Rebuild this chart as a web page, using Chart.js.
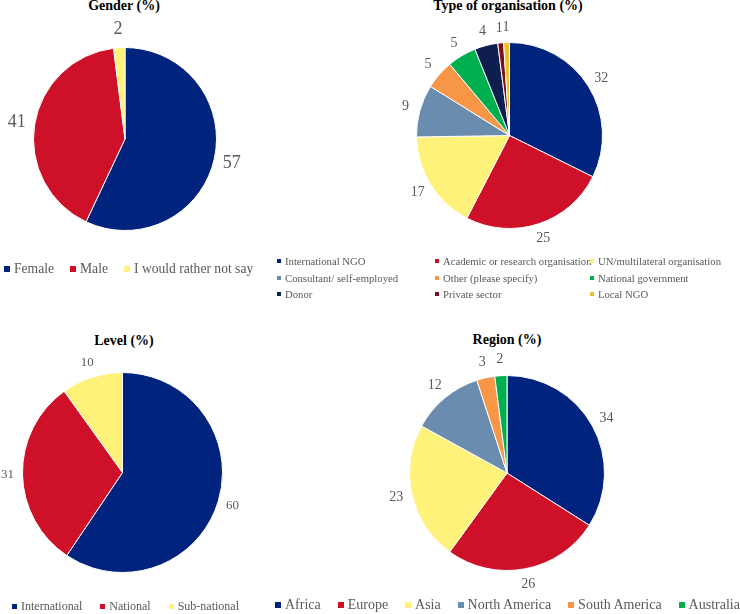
<!DOCTYPE html>
<html>
<head>
<meta charset="utf-8">
<script src="https://cdn.jsdelivr.net/npm/chart.js@4.4.0/dist/chart.umd.min.js"></script>
<style>
  body { margin: 0; width: 740px; height: 614px; background: #fff; position: relative; overflow: hidden; font-family: "Liberation Serif", "Times New Roman", serif; }
  canvas { position: absolute; }
  .title { position: absolute; font-weight: bold; font-size: 14px; line-height: 16px; color: #000; transform: translateX(-50%); white-space: nowrap; }
  .legend { position: absolute; display: flex; align-items: center; color: #595959; white-space: nowrap; }
  .legend .item { display: flex; align-items: center; }
  .legend .box { display: inline-block; margin-right: 4px; flex-shrink: 0; }
  #org-legend { display: grid; grid-template-columns: 158px 155px auto; row-gap: 0; font-size: 10.7px; line-height: 16.5px; }
</style>
</head>
<body>
<div class="title" style="left:124px; top:-2px;">Gender (%)</div>
<div class="title" style="left:508px; top:-2px;">Type of organisation (%)</div>
<div class="title" style="left:124px; top:333px;">Level (%)</div>
<div class="title" style="left:507px; top:332px;">Region (%)</div>

<canvas id="gender-chart"></canvas>
<canvas id="org-chart"></canvas>
<canvas id="level-chart"></canvas>
<canvas id="region-chart"></canvas>

<div class="legend" id="gender-legend" style="left:4px; top:261px; font-size:13.6px; line-height:16px; gap:16px;"></div>
<div class="legend" id="org-legend" style="left:277px; top:253px;"></div>
<div class="legend" id="level-legend" style="left:12px; top:598px; font-size:12px; line-height:16px; gap:18px;"></div>
<div class="legend" id="region-legend" style="left:275px; top:597px; width:465px; justify-content:space-between; font-size:14px; line-height:16px;"></div>

<script>
const genderLabels = ['Female', 'Male', 'I would rather not say'];
const genderValues = [57, 41, 2];
const genderColors = ['#00237D', '#CE1129', '#FFF27A'];

const orgLabels = ['International NGO', 'Academic or research organisation', 'UN/multilateral organisation',
    'Consultant/ self-employed', 'Other (please specify)', 'National government',
    'Donor', 'Private sector', 'Local NGO'];
const orgValues = [32, 25, 17, 9, 5, 5, 4, 1, 1];
const orgColors = ['#00237D', '#CE1129', '#FFF27A', '#6A8CAE', '#F79646', '#00B050', '#0E1E4F', '#7B1020', '#E8C42A'];

const levelLabels = ['International', 'National', 'Sub-national'];
const levelValues = [60, 31, 10];
const levelColors = ['#00237D', '#CE1129', '#FFF27A'];

const regionLabels = ['Africa', 'Europe', 'Asia', 'North America', 'South America', 'Australia'];
const regionValues = [34, 26, 23, 12, 3, 2];
const regionColors = ['#00237D', '#CE1129', '#FFF27A', '#6A8CAE', '#F79646', '#00B050'];

// draws each value just outside its slice, like the data labels in the original
const outsideLabels = {
    id: 'outsideLabels',
    afterDatasetsDraw(chart, args, opts) {
        const ctx = chart.ctx;
        const meta = chart.getDatasetMeta(0);
        const values = chart.data.datasets[0].data;
        ctx.save();
        ctx.font = opts.size + 'px "Liberation Serif"';
        ctx.fillStyle = '#595959';
        ctx.textAlign = 'center';
        ctx.textBaseline = 'middle';
        meta.data.forEach((arc, i) => {
            const p = arc.getProps(['x', 'y', 'startAngle', 'endAngle', 'outerRadius'], true);
            const mid = (p.startAngle + p.endAngle) / 2;
            const rr = p.outerRadius + opts.gap;
            ctx.fillText(String(values[i]), p.x + Math.cos(mid) * rr, p.y + Math.sin(mid) * rr);
        });
        ctx.restore();
    }
};

function createPie(id, cx, cy, r, labels, values, colors, fontSize, gap) {
    const pad = 40;
    const size = 2 * r + 1 + 2 * pad;
    const canvas = document.getElementById(id);
    canvas.width = size;
    canvas.height = size;
    canvas.style.width = size + 'px';
    canvas.style.height = size + 'px';
    canvas.style.left = (cx - r - 0.5 - pad) + 'px';
    canvas.style.top = (cy - r - 0.5 - pad) + 'px';

    return new Chart(canvas.getContext('2d'), {
        type: 'pie',
        data: {
            labels: labels,
            datasets: [{
                data: values,
                backgroundColor: colors,
                borderColor: '#ffffff',
                borderWidth: 1
            }]
        },
        options: {
            responsive: false,
            maintainAspectRatio: false,
            animation: false,
            devicePixelRatio: 1,
            layout: { padding: pad },
            plugins: {
                legend: { display: false },
                tooltip: { enabled: false },
                outsideLabels: { size: fontSize, gap: gap }
            }
        },
        plugins: [outsideLabels]
    });
}

function buildLegend(id, labels, colors, boxSize) {
    const legend = document.getElementById(id);
    labels.forEach((label, i) => {
        const item = document.createElement('span');
        item.className = 'item';
        const box = document.createElement('span');
        box.className = 'box';
        box.style.width = boxSize + 'px';
        box.style.height = boxSize + 'px';
        box.style.background = colors[i];
        const text = document.createElement('span');
        text.textContent = label;
        item.appendChild(box);
        item.appendChild(text);
        legend.appendChild(item);
    });
}

createPie('gender-chart', 124.5, 138.5, 91.5, genderLabels, genderValues, genderColors, 18, 18);
createPie('org-chart', 509, 135, 93, orgLabels, orgValues, orgColors, 14, 15);
createPie('level-chart', 122.5, 472.5, 100, levelLabels, levelValues, levelColors, 13, 15);
createPie('region-chart', 506.5, 472.5, 97.5, regionLabels, regionValues, regionColors, 14, 16);

buildLegend('gender-legend', genderLabels, genderColors, 6);
buildLegend('org-legend', orgLabels, orgColors, 4);
buildLegend('level-legend', levelLabels, levelColors, 5);
buildLegend('region-legend', regionLabels, regionColors, 6);
</script>
</body>
</html>
